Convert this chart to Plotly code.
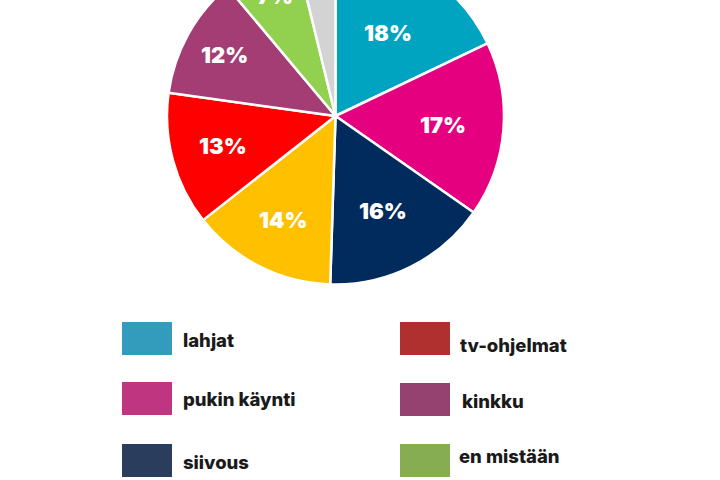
import math
import plotly.graph_objects as go

labels = ["lahjat", "pukin käynti", "siivous", "ruoka", "tv-ohjelmat", "kinkku", "en mistään", "muu"]
values = [17.9, 16.8, 15.8, 13.9, 12.8, 11.7, 7.3, 3.8]
pie_colors = ["#00a3c0", "#e4007f", "#002b5c", "#ffc000", "#ff0000", "#a33d73", "#92d050", "#d3d3d3"]
legend_labels = ["lahjat", "pukin käynti", "siivous", "tv-ohjelmat", "kinkku", "en mistään"]
legend_colors = ["#339bbb", "#c03580", "#2a3d5c", "#b03030", "#964270", "#86ad52"]

cx, cy, r = 335.5, 116, 168.5
W, H_VIEW = 720, 480
SHIFT = int(math.ceil(r - cy)) + 1
H = H_VIEW + SHIFT

def px(x):
    return x / W

def py(y):
    return 1 - (y + SHIFT) / H

# radial placement of each slice label (fraction of radius); None = no label
label_r = [0.58, 0.64, 0.63, 0.69, 0.69, 0.75, 0.80, None]

fig = go.Figure()
fig.add_trace(go.Pie(
    labels=labels, values=values, sort=False, direction="clockwise", rotation=0,
    marker=dict(colors=pie_colors, line=dict(color="white", width=2.5)),
    textinfo="none",
    domain=dict(x=[px(cx - r), px(cx + r)], y=[py(cy + r), min(1.0, py(cy - r))]),
    showlegend=False, hoverinfo="label+percent",
))

total = sum(values)
cum = 0
for v, rf in zip(values, label_r):
    mid = (cum + v / 2) / total * 2 * math.pi
    cum += v
    if rf is None:
        continue
    lx = cx + rf * r * math.sin(mid)
    ly = cy - rf * r * math.cos(mid)
    fig.add_annotation(xref="paper", yref="paper", x=px(lx), y=py(ly),
                       text=f"{round(v / total * 100)}%", showarrow=False,
                       xanchor="center", yanchor="middle",
                       font=dict(family="Inter", size=22, color="white", weight=900))

# legend: left column then right column
sw_x = [122, 122, 122, 400, 400, 400]
sw_y = [322, 382, 444, 322, 383, 444]
tx_x = [181, 181, 181, 458, 460, 457]
tx_y = [340, 399, 462, 345, 401, 456]
for i, lab in enumerate(legend_labels):
    fig.add_shape(type="rect", xref="paper", yref="paper",
                  x0=px(sw_x[i]), x1=px(sw_x[i] + 50), y0=py(sw_y[i]), y1=py(sw_y[i] + 33),
                  fillcolor=legend_colors[i], line=dict(width=0))
    fig.add_annotation(xref="paper", yref="paper", x=px(tx_x[i]), y=py(tx_y[i]),
                       text=lab, showarrow=False, xanchor="left", yanchor="middle",
                       font=dict(family="Inter", size=18.5, color="#1a1a1a", weight=800))

fig.update_layout(width=W, height=H, margin=dict(l=0, r=0, t=0, b=0),
                  paper_bgcolor="white", plot_bgcolor="white")

fig.write_html("out.html", post_script=(
    "document.body.style.margin='0';"
    "var d=document.getElementById('{plot_id}'); d.style.marginTop='-%dpx';" % SHIFT))
